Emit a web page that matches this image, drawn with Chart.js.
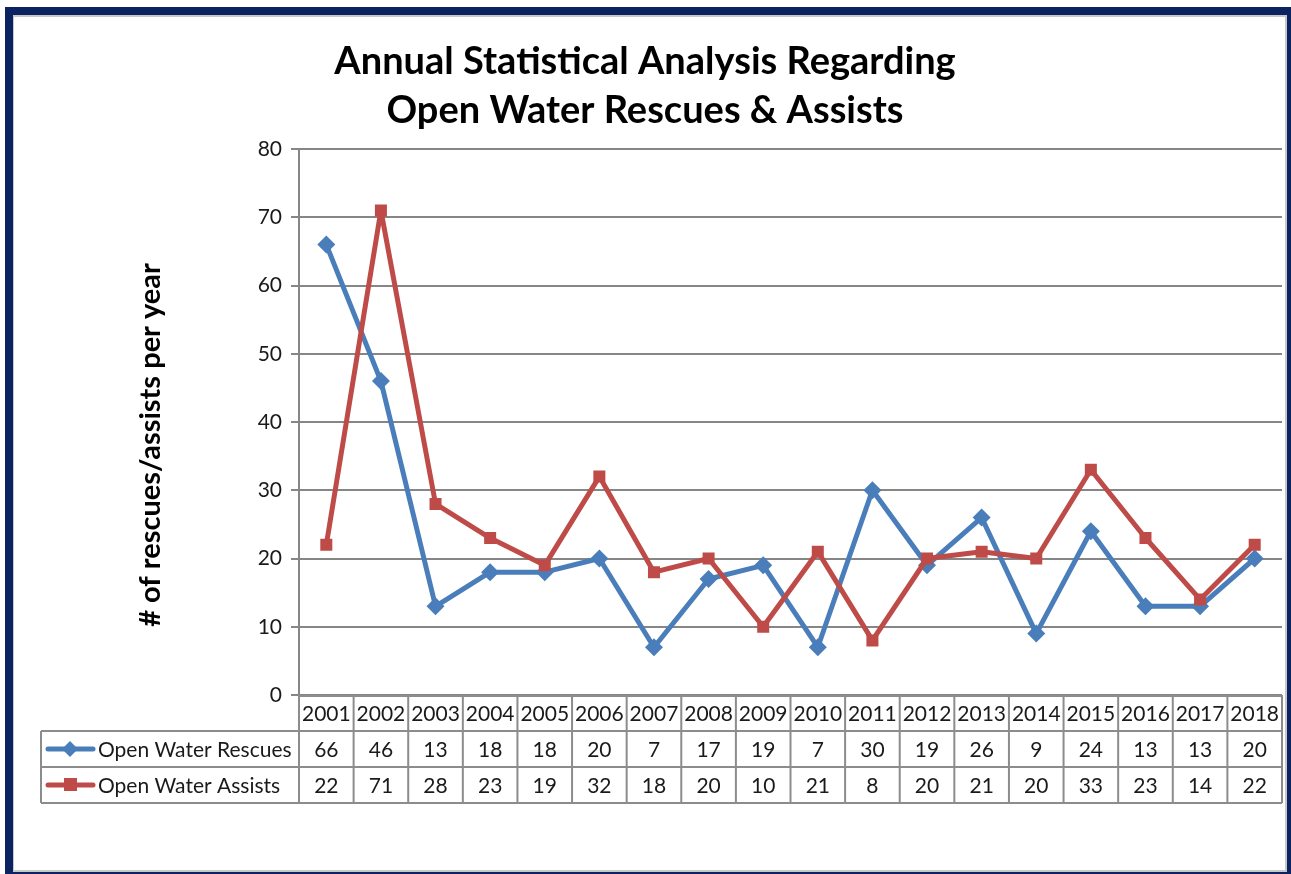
<!DOCTYPE html>
<html>
<head>
<meta charset="utf-8">
<script src="https://cdn.jsdelivr.net/npm/chart.js@4.4.1/dist/chart.umd.min.js"></script>
<style>
  html, body { margin: 0; padding: 0; background: #fff; }
  #wrap { width: 1291px; height: 874px; position: relative; }
</style>
</head>
<body>
<div id="wrap"><canvas id="myChart"></canvas></div>
<script>
const years = ['2001', '2002', '2003', '2004', '2005', '2006', '2007', '2008', '2009',
  '2010', '2011', '2012', '2013', '2014', '2015', '2016', '2017', '2018'];
const rescues = [66, 46, 13, 18, 18, 20, 7, 17, 19, 7, 30, 19, 26, 9, 24, 13, 13, 20];
const assists = [22, 71, 28, 23, 19, 32, 18, 20, 10, 21, 8, 20, 21, 20, 33, 23, 14, 22];
const seriesNames = ['Open Water Rescues', 'Open Water Assists'];
const yTicks = [0, 10, 20, 30, 40, 50, 60, 70, 80];

const BLUE = '#4a7ebb';
const RED = '#be4b48';
const GRID = '#868686';
const FONT = 'Lato, "Open Sans", sans-serif';

// 外枠と縦軸タイトル
const framePlugin = {
  id: 'frame',
  beforeDraw(chart) {
    const ctx = chart.ctx;
    ctx.save();
    ctx.fillStyle = '#fff';
    ctx.fillRect(0, 0, chart.width, chart.height);
    ctx.restore();
  },
  afterDraw(chart) {
    const ctx = chart.ctx;
    ctx.save();
    ctx.strokeStyle = '#c8c8c8';
    ctx.lineWidth = 2;
    ctx.strokeRect(13, 16, 1273, 855);
    ctx.strokeStyle = '#0b2461';
    ctx.lineWidth = 8;
    ctx.strokeRect(9, 11, 1282, 865);
    // y axis title
    ctx.translate(151, 445);
    ctx.rotate(-Math.PI / 2);
    ctx.fillStyle = '#000';
    ctx.font = 'bold 29px ' + FONT;
    ctx.textAlign = 'center';
    ctx.textBaseline = 'middle';
    ctx.fillText('# of rescues/assists per year', 0, 0);
    ctx.restore();
  }
};

// データテーブル
const tablePlugin = {
  id: 'dataTable',
  afterDraw(chart) {
    const ctx = chart.ctx;
    const xs = chart.scales.x;
    const area = chart.chartArea;
    const colW = (area.right - area.left) / years.length;
    const rowH = 36;
    const top = area.bottom;
    const legendLeft = 41;
    const rows = [rescues, assists];
    const colors = [BLUE, RED];
    const markers = ['diamond', 'square'];

    ctx.save();
    ctx.strokeStyle = '#8c8c8c';
    ctx.lineWidth = 2;
    // horizontal lines
    ctx.beginPath();
    ctx.moveTo(area.left, top + 1);
    ctx.lineTo(area.right, top + 1);
    for (let r = 1; r <= 3; r++) {
      const y = top + r * rowH;
      ctx.moveTo(legendLeft, y);
      ctx.lineTo(area.right, y);
    }
    // vertical lines
    for (let c = 0; c <= years.length; c++) {
      const x = area.left + c * colW;
      ctx.moveTo(x, top);
      ctx.lineTo(x, top + 3 * rowH);
    }
    ctx.moveTo(legendLeft, top + rowH);
    ctx.lineTo(legendLeft, top + 3 * rowH);
    ctx.stroke();

    ctx.fillStyle = '#1a1a1a';
    ctx.font = '21px ' + FONT;
    ctx.textAlign = 'center';
    ctx.textBaseline = 'middle';
    years.forEach((yr, i) => {
      const cx = xs.getPixelForValue(i);
      ctx.fillText(yr, cx, top + rowH / 2 + 1);
      rows.forEach((vals, r) => {
        ctx.fillText(String(vals[i]), cx, top + (r + 1.5) * rowH + 1);
      });
    });

    // legend keys
    rows.forEach((vals, r) => {
      const cy = top + (r + 1.5) * rowH;
      ctx.strokeStyle = colors[r];
      ctx.lineWidth = 5;
      ctx.lineCap = 'round';
      ctx.beginPath();
      ctx.moveTo(48, cy);
      ctx.lineTo(93, cy);
      ctx.stroke();
      ctx.fillStyle = colors[r];
      ctx.beginPath();
      if (markers[r] === 'diamond') {
        ctx.moveTo(70, cy - 8);
        ctx.lineTo(78, cy);
        ctx.lineTo(70, cy + 8);
        ctx.lineTo(62, cy);
      } else {
        ctx.rect(64, cy - 7, 13, 13);
      }
      ctx.fill();
      ctx.fillStyle = '#1a1a1a';
      ctx.textAlign = 'left';
      ctx.fillText(seriesNames[r], 98, cy + 1);
    });
    ctx.restore();
  }
};

new Chart(
  document.getElementById('myChart').getContext('2d'),
  {
    type: 'line',
    data: {
      labels: years,
      datasets: [
        {
          label: seriesNames[0],
          data: rescues,
          borderColor: BLUE,
          backgroundColor: BLUE,
          borderWidth: 5,
          borderJoinStyle: 'round',
          borderCapStyle: 'round',
          pointStyle: 'rectRot',
          pointRadius: 9,
          pointBorderWidth: 0,
          tension: 0,
          order: 1
        },
        {
          label: seriesNames[1],
          data: assists,
          borderColor: RED,
          backgroundColor: RED,
          borderWidth: 5,
          borderJoinStyle: 'round',
          borderCapStyle: 'round',
          pointStyle: 'rect',
          pointRadius: 8.5,
          pointBorderWidth: 0,
          tension: 0,
          order: 0
        }
      ]
    },
    plugins: [framePlugin, tablePlugin],
    options: {
      responsive: true,
      maintainAspectRatio: false,
      animation: false,
      layout: {
        padding: { left: 4, right: 5, top: 38, bottom: 0 }
      },
      plugins: {
        legend: { display: false },
        tooltip: { enabled: false },
        title: {
          display: true,
          text: ['Annual Statistical Analysis Regarding', 'Open Water Rescues & Assists'],
          color: '#000',
          font: { family: FONT, size: 38, weight: 'bold', lineHeight: 1.27 },
          padding: { top: 0, bottom: 14.5 }
        }
      },
      scales: {
        x: {
          offset: true,
          grid: { display: false },
          border: { display: false },
          ticks: { display: false },
          afterFit(scale) { scale.height = 179; }
        },
        y: {
          min: 0,
          max: 80,
          afterBuildTicks(scale) { scale.ticks = yTicks.map(v => ({ value: v })); },
          afterFit(scale) { scale.width = 295; },
          grid: { color: GRID, lineWidth: 2, tickLength: 8 },
          border: { color: GRID, width: 2 },
          ticks: {
            color: '#1a1a1a',
            padding: 9,
            font: { family: FONT, size: 21 }
          }
        }
      }
    }
  }
);
</script>
</body>
</html>
